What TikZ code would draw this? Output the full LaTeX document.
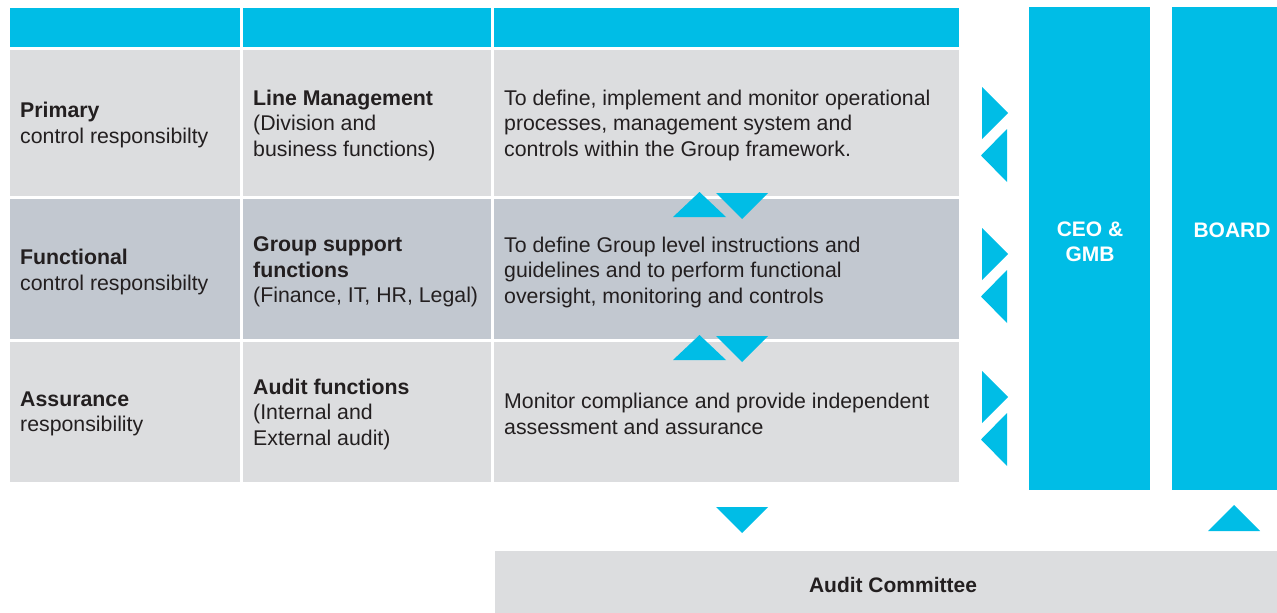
\documentclass[tikz,border=0pt]{standalone}
\usepackage{fontspec}
\setmainfont{Liberation Sans}

\definecolor{brandCyan}{RGB}{0,189,230}
\definecolor{paleGrey}{RGB}{220,221,223}
\definecolor{slateGrey}{RGB}{194,200,208}
\definecolor{inkGrey}{RGB}{35,31,32}

\tikzset{
	celltext/.style={anchor=west, inner sep=0pt, align=left, text=inkGrey,
		font=\fontsize{21.3}{25.5}\selectfont},
	barlabel/.style={inner sep=0pt, align=center, text=white,
		font=\fontsize{21}{25.5}\selectfont\bfseries},
}

\begin{document}
\begin{tikzpicture}[x=1pt,y=-1pt]
			\useasboundingbox (0,0) rectangle (1277,613);
			% header strip
			\foreach \xl/\xr in {10/240, 243/491, 494/959} {
				\fill[brandCyan] (\xl,8) rectangle (\xr,47);
			};
			% table body
			\foreach \ytop/\ybot/\shade in {50/196/paleGrey, 199/339/slateGrey, 342/482/paleGrey} {
				\foreach \xl/\xr in {10/240, 243/491, 494/959} {
					\fill[\shade] (\xl,\ytop) rectangle (\xr,\ybot);
				}
			};
			% side bars and audit committee
			\fill[brandCyan] (1029,7) rectangle (1150,490);
			\fill[brandCyan] (1172,7) rectangle (1277,490);
			\fill[paleGrey] (495,551) rectangle (1277,613);
			% triangles towards the CEO bar
			\foreach \dy in {0,141,284} {
				\fill[brandCyan] (982,{87+\dy}) -- (1008,{113+\dy}) -- (982,{139+\dy}) -- cycle;
				\fill[brandCyan] (1007,{129+\dy}) -- (981,{155.5+\dy}) -- (1007,{182+\dy}) -- cycle;
			};
			% triangles between rows
			\foreach \y in {192,335} {
				\fill[brandCyan] (673,{\y+25}) -- (699.5,\y) -- (726,{\y+25}) -- cycle;
				\fill[brandCyan] (716,{\y+1}) -- (768,{\y+1}) -- (742,{\y+27}) -- cycle;
			};
			\fill[brandCyan] (716,507) -- (768,507) -- (742,533) -- cycle;
			\fill[brandCyan] (1208,531) -- (1234,505) -- (1260,531) -- cycle;

			% row texts
			\node[celltext] (primary) at (20,125) {\textbf{Primary}\\control responsibilty};
			\node[celltext] (linemgmt) at (253,125) {\textbf{Line Management}\\(Division and\\business functions)};
			\node[celltext] (linetask) at (504,125) {To define, implement and monitor operational\\processes, management system and\\controls within the Group framework.};
			\node[celltext] (functional) at (20,272) {\textbf{Functional}\\control responsibilty};
			\node[celltext] (support) at (253,272) {\textbf{Group support}\\\textbf{functions}\\(Finance, IT, HR, Legal)};
			\node[celltext] (supporttask) at (504,272) {To define Group level instructions and\\guidelines and to perform functional\\oversight, monitoring and controls};
			\node[celltext] (assurance) at (20,414) {\textbf{Assurance}\\responsibility};
			\node[celltext] (audit) at (253,414) {\textbf{Audit functions}\\(Internal and\\External audit)};
			\node[celltext] (audittask) at (504,414) {Monitor compliance and provide independent\\assessment and assurance};

			% bar labels
			\node[barlabel] (ceo) at (1090,242) {CEO \&\\GMB};
			\node[barlabel] (board) at (1232,230) {BOARD};
			\node[barlabel, text=inkGrey] (committee) at (893,585) {Audit Committee};
		\end{tikzpicture}
\end{document}
